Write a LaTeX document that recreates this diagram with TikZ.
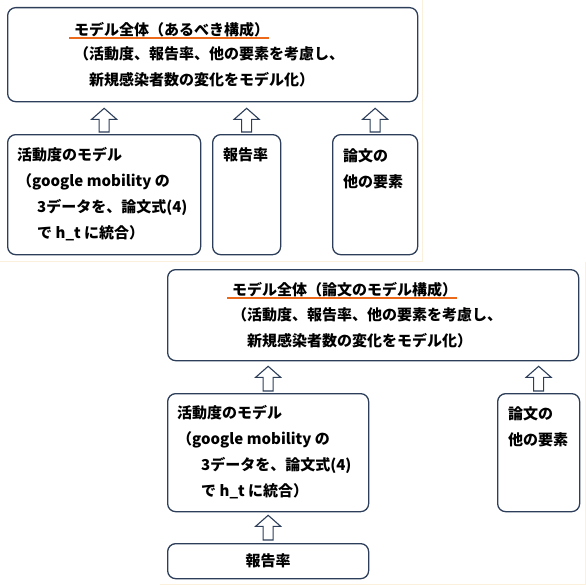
\documentclass[tikz,border=0pt]{standalone}
\usepackage{fontspec}
\newfontfamily\jpfont{Noto Sans CJK JP}
\usetikzlibrary{
    positioning,
    calc
}
\definecolor{BoxNavy}{RGB}{44,62,90}
\definecolor{MarkOrange}{RGB}{235,105,25}
\definecolor{PageCream}{RGB}{250,240,220}
\tikzset{
  box/.style    = {draw=BoxNavy, line width=1.3pt, rounded corners=8pt,
                   anchor=north west, inner sep=0pt},
  txt/.style    = {font=\jpfont\bfseries\fontsize{15}{26}\selectfont,
                   align=left, inner sep=0pt, anchor=west},
  harrow/.style = {draw=BoxNavy, fill=white, line width=1.1pt,
                   to path={let \p1=(\tikztostart), \p2=(\tikztotarget) in
                     (\x1-5pt,\y1) -- (\x1-5pt,\y2-11pt) -- (\x1-12.5pt,\y2-11pt)
                     -- (\x1,\y2) -- (\x1+12.5pt,\y2-11pt) -- (\x1+5pt,\y2-11pt)
                     -- (\x1+5pt,\y1) -- cycle}},
  uline/.style  = {MarkOrange, line width=2pt},
  edge/.style   = {PageCream, line width=1pt}
}

\begin{document}
\begin{tikzpicture}[x=1pt,y=-1pt]
\useasboundingbox (0,0) rectangle (586,586);
\draw[edge] (422,0) -- (422,261) -- (0,261);
\draw[edge] (585,262) -- (585,584) -- (160,584);

% upper sheet
\node[box, minimum width=410pt, minimum height=94pt] (whole1) at (7,7) {};
\node[txt] (ttl1) at (74,30) {モデル全体（あるべき構成）};
\node[txt] (body1) at (74,66.5)
  {（活動度、報告率、他の要素を考慮し、\\　新規感染者数の変化をモデル化）};
\draw[uline] ([xshift=-5pt,yshift=-2pt]ttl1.base west) -- ([yshift=-2pt]ttl1.base east);

\node[box, minimum width=193pt, minimum height=120pt] (act1) at (7,134) {};
\node[box, minimum width=68pt, minimum height=120pt] (rep1) at (212,134) {};
\node[box, minimum width=85pt, minimum height=120pt] (oth1) at (332,134) {};
\node[txt] (actt1) at (17,194)
  {活動度のモデル\\（google mobility の\\\hspace*{20pt}3データを、論文式(4)\\\hspace*{20pt}で h\_t に統合）};
\node[txt] (rept1) at (223,155) {報告率};
\node[txt] (otht1) at (343,168.5) {論文の\\他の要素};

\foreach \b in {act1,rep1,oth1}
  \draw[harrow] ([yshift=2pt]\b.north) to ([yshift=-6pt]\b.north |- whole1.south);

% lower sheet
\node[box, minimum width=411pt, minimum height=91pt] (whole2) at (167,269) {};
\node[txt] (ttl2) at (232,290) {モデル全体（論文のモデル構成）};
\node[txt] (body2) at (232,327.5)
  {（活動度、報告率、他の要素を考慮し、\\　新規感染者数の変化をモデル化）};
\draw[uline] ([xshift=-5pt,yshift=-2pt]ttl2.base west) -- ([yshift=-2pt]ttl2.base east);

\node[box, minimum width=201pt, minimum height=118pt] (act2) at (167,393) {};
\node[box, minimum width=82pt, minimum height=118pt] (oth2) at (497,393) {};
\node[box, minimum width=201pt, minimum height=35pt] (rep2) at (167,543) {};
\node[txt] (actt2) at (177,452)
  {活動度のモデル\\（google mobility の\\\hspace*{24pt}3データを、論文式(4)\\\hspace*{24pt}で h\_t に統合）};
\node[txt] (otht2) at (508,426.5) {論文の\\他の要素};
\node[txt, anchor=center] (rept2) at (rep2.center) {報告率};

\foreach \b in {act2,oth2}
  \draw[harrow] ([yshift=2pt]\b.north) to ([yshift=-5pt]\b.north |- whole2.south);
\draw[harrow] ([yshift=3pt]rep2.north) to ([yshift=-3pt]rep2.north |- act2.south);
\end{tikzpicture}
\end{document}
